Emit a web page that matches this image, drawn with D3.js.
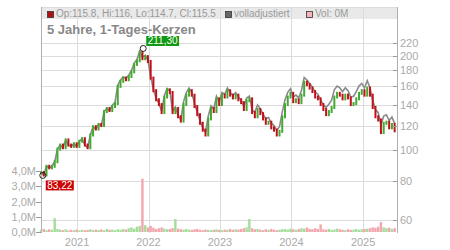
<!DOCTYPE html>
<head>
    <title>5 Jahre, 1-Tages-Kerzen</title>
    <script src="https://cdn.jsdelivr.net/npm/d3@7"></script>
    <style>
        body { margin: 0; background: #fff; }
        text { font-family: "Liberation Sans", Arial, sans-serif; }
    </style>
</head>
<body>

<div id="container"></div>
<script>

    // Data: one point every two weeks, starting 1 July 2020
    const startDate = new Date(2020, 6, 1);
    const stepDays = 14;

    const closes = [
        85, 83.5, 89, 88, 89, 92, 101, 104, 102, 108,
        104, 103, 105, 103, 107, 109, 104, 102, 112, 119,
        117, 121, 120, 133, 136, 134, 138, 141, 160, 166,
        170, 168, 172, 178, 188, 193, 205, 196, 199, 192,
        170, 155, 145, 140, 132, 148, 156, 153, 132, 136,
        128, 124, 140, 150, 155, 150, 138, 130, 122, 116,
        112, 126, 136, 133, 146, 140, 150, 148, 155, 150,
        147, 150, 145, 142, 135, 144, 146, 132, 128, 135,
        131, 126, 122, 123, 118, 116, 112, 115, 128, 140,
        148, 152, 143, 145, 142, 150, 165, 162, 158, 154,
        148, 146, 140, 135, 130, 133, 137, 148, 152, 150,
        146, 150, 147, 140, 141, 146, 152, 155, 150, 158,
        150, 137, 128, 125, 114, 122, 123, 118, 121, 115.5
    ];

    // "volladjustiert" series
    const adjusted = [
        85, 83.5, 89, 88, 89, 92, 101, 104, 102, 108,
        104, 103, 105, 103, 107, 109, 104, 102, 112, 119,
        117, 121, 120, 133, 136, 134, 139.4, 142.4, 161.6, 167.7,
        171.7, 169.7, 173.7, 179.8, 189.9, 194.9, 207, 198, 201, 194,
        171.7, 156.6, 146.5, 141.4, 133.3, 149.5, 157.6, 154.5, 133.3, 137.4,
        129.3, 125.2, 142.8, 153, 158.1, 153, 140.8, 132.6, 124.4, 118.3,
        114.2, 128.5, 138.7, 135.7, 148.9, 142.8, 153, 151, 158.1, 153,
        149.9, 153, 147.9, 144.8, 137.7, 146.9, 148.9, 134.6, 132.5, 139.7,
        135.6, 130.4, 126.3, 127.3, 122.1, 120.1, 115.9, 119, 132.5, 144.9,
        153.2, 157.3, 148, 150.1, 147, 155.3, 170.8, 167.7, 163.5, 159.4,
        153.2, 151.1, 144.9, 139.7, 137.2, 140.3, 144.5, 156.1, 160.4, 158.3,
        154, 158.3, 155.1, 147.7, 148.8, 154, 160.4, 163.5, 158.3, 166.7,
        158.3, 144.5, 135, 131.9, 120.3, 128.7, 129.8, 124.5, 127.7, 121.9
    ];

    // Volume in millions
    const volumes = [
        0.15, 0.2, 0.12, 0.18, 0.14, 0.9, 0.2, 0.16, 0.12, 0.18,
        0.1, 0.14, 0.12, 0.16, 0.1, 0.15, 0.12, 0.14, 0.18, 0.12,
        0.15, 0.13, 0.17, 0.12, 0.2, 0.14, 0.16, 0.12, 0.18, 0.15,
        0.2, 0.16, 0.25, 0.3, 0.22, 0.35, 0.4, 3.5, 0.45, 0.3,
        0.4, 0.28, 0.2, 0.25, 0.3, 0.22, 0.18, 0.2, 0.25, 0.85,
        0.22, 0.18, 0.15, 0.2, 0.16, 0.14, 0.18, 0.2, 0.15, 0.12,
        0.16, 0.14, 0.12, 0.15, 0.18, 0.14, 0.12, 0.16, 0.15, 0.2,
        0.14, 0.18, 0.16, 0.2, 0.25, 0.3, 0.85, 0.25, 0.18, 0.2,
        0.15, 0.12, 0.18, 0.14, 0.2, 0.16, 0.12, 0.15, 0.18, 0.2,
        0.16, 0.22, 0.18, 0.14, 0.2, 0.25, 0.22, 0.3, 0.2, 0.18,
        0.25, 0.2, 0.5, 0.18, 0.15, 0.2, 0.14, 0.16, 0.22, 0.18,
        0.15, 0.12, 0.18, 0.14, 0.16, 0.2, 0.15, 0.18, 0.2, 0.22,
        0.25, 0.3, 0.28, 0.35, 0.65, 0.3, 0.25, 0.28, 0.2, 0.25
    ];

    const priceTicks = [60, 80, 100, 120, 140, 160, 180, 200, 220];
    const volumeTicks = [0, 1, 2, 3, 4];
    const yearTicks = [2021, 2022, 2023, 2024, 2025];

    const highPoint = { date: new Date(2021, 11, 5), value: 211.30, label: "211,30" };
    const lowPoint = { date: new Date(2020, 6, 10), value: 83.22, label: "83,22" };

    const legendItems = ["Op:115.8, Hi:116, Lo:114.7, Cl:115.5", "volladjustiert", "Vol: 0M"];

    // Dimensions
    const width = 450;
    const height = 250;
    const plotLeft = 41, plotRight = 397, plotTop = 7, plotBottom = 233;

    const svg = d3.select("#container")
        .append("svg")
        .attr("width", width)
        .attr("height", height);

    const data = closes.map((c, i) => ({
        date: d3.timeDay.offset(startDate, i * stepDays),
        close: c,
        open: i === 0 ? c : closes[i - 1],
        adj: adjusted[i],
        vol: volumes[i]
    }));

    // Scales
    const x = d3.scaleTime()
        .domain([new Date(2020, 6, 1), new Date(2025, 5, 23)])
        .range([plotLeft, plotRight]);

    const y = d3.scaleLog()
        .domain([54.54, 286.5])
        .range([plotBottom, plotTop]);

    const yVol = d3.scaleLinear()
        .domain([0, 4])
        .range([232, 171]);

    // Header band
    svg.append("rect")
        .attr("x", plotLeft).attr("y", plotTop)
        .attr("width", plotRight - plotLeft).attr("height", 12)
        .attr("fill", "#e9e9e9");

    // Grid
    svg.selectAll(".hgrid")
        .data(priceTicks)
        .enter()
        .append("line")
        .attr("x1", plotLeft).attr("x2", plotRight)
        .attr("y1", d => Math.round(y(d)) + 0.5)
        .attr("y2", d => Math.round(y(d)) + 0.5)
        .attr("stroke", "#dcdcdc");

    svg.selectAll(".vgrid")
        .data(yearTicks)
        .enter()
        .append("line")
        .attr("x1", d => Math.round(x(new Date(d, 0, 1))) + 0.5)
        .attr("x2", d => Math.round(x(new Date(d, 0, 1))) + 0.5)
        .attr("y1", plotTop).attr("y2", plotBottom)
        .attr("stroke", "#dcdcdc");

    svg.append("line")
        .attr("x1", plotLeft).attr("x2", plotRight)
        .attr("y1", plotTop + 0.5).attr("y2", plotTop + 0.5)
        .attr("stroke", "#dcdcdc");

    // Frame lines
    svg.append("line")
        .attr("x1", plotLeft + 0.5).attr("x2", plotLeft + 0.5)
        .attr("y1", plotTop).attr("y2", plotBottom)
        .attr("stroke", "#b0b0b0");

    svg.append("line")
        .attr("x1", plotRight + 0.5).attr("x2", plotRight + 0.5)
        .attr("y1", plotTop).attr("y2", plotBottom)
        .attr("stroke", "#b0b0b0");

    // Volume bars
    svg.selectAll(".vol")
        .data(data)
        .enter()
        .append("rect")
        .attr("x", d => x(d.date) - 1.2)
        .attr("width", 2.4)
        .attr("y", d => yVol(d.vol))
        .attr("height", d => yVol(0) - yVol(d.vol))
        .attr("fill", d => d.close >= d.open ? "#a6dc9c" : "#f2a7ae");

    // Adjusted line
    svg.append("path")
        .datum(data)
        .attr("fill", "none")
        .attr("stroke", "#8a8a8a")
        .attr("stroke-width", 1.6)
        .attr("d", d3.line().x(d => x(d.date)).y(d => y(d.adj)));

    // Candles
    svg.selectAll(".candle")
        .data(data)
        .enter()
        .append("rect")
        .attr("x", d => x(d.date) - 1)
        .attr("width", 2)
        .attr("y", d => Math.min(y(d.open), y(d.close)) - 1.5)
        .attr("height", d => Math.abs(y(d.open) - y(d.close)) + 3)
        .attr("fill", d => d.close >= d.open ? "#44a832" : "#c0111a");

    // Right price axis
    const priceAxis = svg.append("g");
    priceAxis.selectAll("line")
        .data(priceTicks)
        .enter()
        .append("line")
        .attr("x1", plotRight - 4).attr("x2", plotRight)
        .attr("y1", d => Math.round(y(d)) + 0.5)
        .attr("y2", d => Math.round(y(d)) + 0.5)
        .attr("stroke", "#999");
    priceAxis.selectAll("text")
        .data(priceTicks)
        .enter()
        .append("text")
        .attr("x", plotRight + 3)
        .attr("y", d => y(d) + 4)
        .attr("font-size", 11)
        .attr("fill", "#aaa")
        .text(d => d);

    // Left volume axis
    const volAxis = svg.append("g");
    volAxis.selectAll("line")
        .data(volumeTicks)
        .enter()
        .append("line")
        .attr("x1", plotLeft - 5).attr("x2", plotLeft)
        .attr("y1", d => Math.round(yVol(d)) + 0.5)
        .attr("y2", d => Math.round(yVol(d)) + 0.5)
        .attr("stroke", "#999");
    volAxis.selectAll("text")
        .data(volumeTicks)
        .enter()
        .append("text")
        .attr("x", plotLeft - 5)
        .attr("y", d => yVol(d) + 4)
        .attr("text-anchor", "end")
        .attr("font-size", 11)
        .attr("fill", "#aaa")
        .text(d => d.toFixed(1).replace(".", ",") + "M");

    // Year labels
    svg.selectAll(".year")
        .data(yearTicks)
        .enter()
        .append("text")
        .attr("x", d => x(new Date(d, 0, 1)))
        .attr("y", 246)
        .attr("text-anchor", "middle")
        .attr("font-size", 11)
        .attr("fill", "#aaa")
        .text(d => d);

    // Legend in the header band
    const legendX = [47, 225, 306];
    const legendColors = ["#b01010", "#666", "#f4b4ba"];
    legendItems.forEach((t, i) => {
        svg.append("rect")
            .attr("x", legendX[i] + 0.5).attr("y", 11.5)
            .attr("width", 6).attr("height", 6)
            .attr("fill", legendColors[i])
            .attr("stroke", "#333")
            .attr("stroke-width", 0.8);
        svg.append("text")
            .attr("x", legendX[i] + 9)
            .attr("y", 17)
            .attr("font-size", 10)
            .attr("fill", "#999")
            .text(t);
    });

    // Title
    svg.append("text")
        .attr("x", 47).attr("y", 34)
        .attr("font-size", 13)
        .attr("font-weight", "bold")
        .attr("fill", "#888")
        .text("5 Jahre, 1-Tages-Kerzen");

    // High / low markers
    function marker(p, color, dx, dy) {
        const cx = x(p.date), cy = y(p.value);
        svg.append("circle")
            .attr("cx", cx).attr("cy", cy).attr("r", 3)
            .attr("fill", "none")
            .attr("stroke", "#222");
        const label = svg.append("g");
        const txt = label.append("text")
            .attr("x", cx + dx + 1.5)
            .attr("y", cy + dy + 8.5)
            .attr("font-size", 10)
            .attr("fill", "#fff")
            .text(p.label);
        const w = txt.node().getComputedTextLength() + 3;
        label.insert("rect", "text")
            .attr("x", cx + dx).attr("y", cy + dy)
            .attr("width", w).attr("height", 10)
            .attr("fill", color);
    }
    marker(highPoint, "#119911", 3, -12.5);
    marker(lowPoint, "#cc0000", 3, 5);

</script>
</body>
